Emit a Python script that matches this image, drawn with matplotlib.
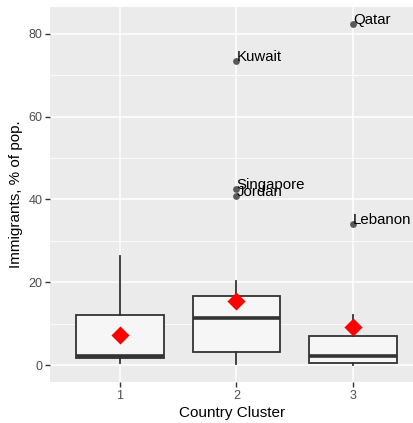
import matplotlib
matplotlib.use("Agg")
import matplotlib.pyplot as plt

plt.rcParams['font.family'] = ['Liberation Sans', 'DejaVu Sans']

# Cluster summaries (five-number boxes plus means)
clusters = [1, 2, 3]
q1 = [1.6, 3.2, 0.6]
medians = [2.2, 11.4, 2.1]
q3 = [12.2, 16.7, 6.9]
whisker_low = [0.4, 0.2, 0.1]
whisker_high = [26.4, 20.3, 12.2]
means = [7.2, 15.4, 9.3]

# Outlying countries
outlier_names = ["Kuwait", "Singapore", "Jordan", "Qatar", "Lebanon"]
outlier_cluster = [2, 2, 2, 3, 3]
outlier_values = [73.5, 42.5, 40.9, 82.3, 34.1]

y_ticks = [0, 20, 40, 60, 80]
x_tick_labels = ["1", "2", "3"]

W, H = 414, 423
fig = plt.figure(figsize=(W / 100, H / 100), dpi=100)
left, right, top, bottom = 50, 414, 7, 382
ax = fig.add_axes([left / W, (H - bottom) / H, (right - left) / W, (bottom - top) / H])

bg = "#EBEBEB"
ax.set_facecolor(bg)
for s in ax.spines.values():
    s.set_visible(False)

ax.set_xlim(0.4, 3.524)
ax.set_ylim(-4.1, 86.5)

ax.set_yticks(y_ticks)
ax.set_yticks([10, 30, 50, 70], minor=True)
ax.set_xticks(clusters)
ax.set_xticklabels(x_tick_labels)
ax.grid(which="major", color="white", linewidth=1.1, zorder=0)
ax.grid(which="minor", axis="y", color="white", linewidth=0.55, zorder=0)
ax.set_axisbelow(True)
ax.tick_params(which="major", length=3.5, width=1.0, color="#333333",
               labelcolor="#4D4D4D", labelsize=9, pad=2)
ax.tick_params(which="minor", length=0)

stats = []
for i in range(len(clusters)):
    stats.append(dict(med=medians[i], q1=q1[i], q3=q3[i],
                      whislo=whisker_low[i], whishi=whisker_high[i], fliers=[]))

ax.bxp(stats, positions=clusters, widths=0.75, patch_artist=True,
       showcaps=False, showfliers=False,
       boxprops=dict(facecolor="#F6F6F6", edgecolor="#333333", linewidth=1.3),
       whiskerprops=dict(color="#333333", linewidth=1.3),
       medianprops=dict(color="#333333", linewidth=2.6),
       manage_ticks=False, zorder=2)

ax.scatter(outlier_cluster, outlier_values, s=24, color="#5A5A5A", zorder=3,
           linewidths=0)
for name, xc, v in zip(outlier_names, outlier_cluster, outlier_values):
    ax.text(xc, v, name, ha="left", va="baseline", fontsize=10.8, color="black",
            zorder=4, clip_on=False)

ax.scatter(clusters, means, marker="D", s=85, color="red", linewidths=0, zorder=5)

ax.set_xlabel("Country Cluster", fontsize=11, color="black", labelpad=3)
ax.set_ylabel("Immigrants, % of pop.", fontsize=11, color="black", labelpad=4)

fig.savefig("out.png", dpi=100, facecolor="white")
